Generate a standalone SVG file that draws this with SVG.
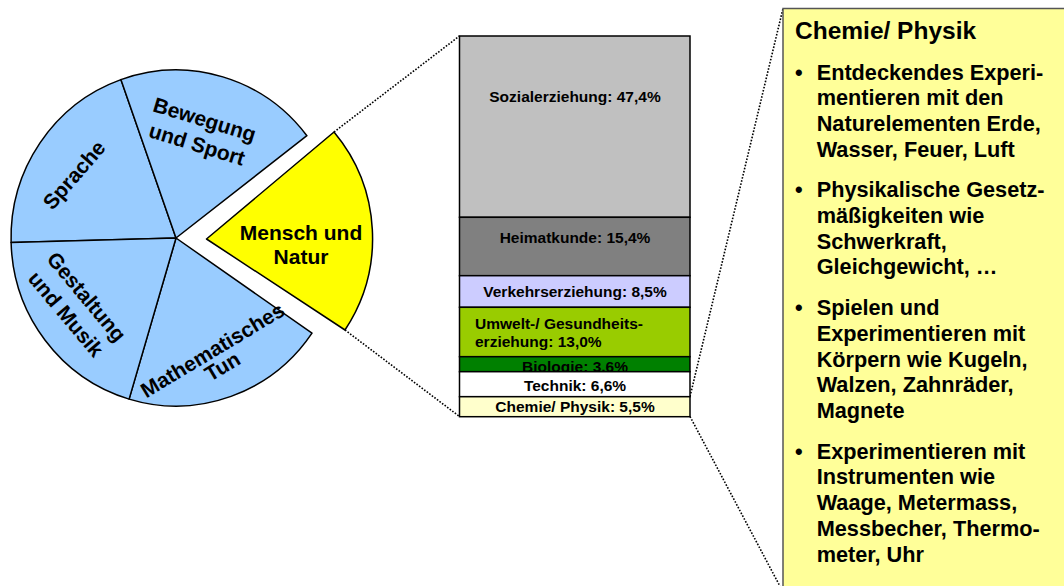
<svg xmlns="http://www.w3.org/2000/svg" width="1064" height="586" viewBox="0 0 1064 586">
<style>
.t{font-family:"Liberation Sans",Arial,sans-serif;font-weight:bold;fill:#000}
.pl{font-size:21px;text-anchor:middle}
.bl{font-size:15.5px;text-anchor:middle}
.bll{font-size:15.5px}
.slice{stroke:#000;stroke-width:1.5;stroke-linejoin:round}
.blue{fill:#99CCFF}
.seg{stroke:#000;stroke-width:1.5}
.dot{fill:none;stroke:#000;stroke-width:1.6;stroke-dasharray:1.6 1.6}
.bt{font-size:21.7px}
</style>
<rect width="1064" height="586" fill="#fff"/>
<g id="connectors">
<line class="dot" x1="334" y1="132" x2="459.5" y2="36"/>
<line class="dot" x1="345" y1="330" x2="459.5" y2="416.5"/>
<line class="dot" x1="690" y1="396.5" x2="783" y2="8.5"/>
<line class="dot" x1="690" y1="416.5" x2="783" y2="592"/>
</g>
<g id="pie-sprache">
<path class="slice blue" d="M176,238 L11.1,242.4 A165,168 0 0 1 120.9,79.6 Z"/>
<text class="t pl" transform="translate(79.6,179.7) rotate(-49)">Sprache</text>
</g>
<g id="pie-bewegung">
<path class="slice blue" d="M176,238 L120.9,79.6 A165,168 0 0 1 306.9,135.7 Z"/>
<g transform="translate(202.4,126.5) rotate(17)">
<text class="t pl" x="0" y="0">Bewegung</text>
<text class="t pl" x="0" y="26">und Sport</text>
</g>
</g>
<g id="pie-mathematisches">
<path class="slice blue" d="M176,238 L312,333.2 A165,168 0 0 1 129.1,399.1 Z"/>
<g transform="translate(216.3,356.3) rotate(-31)">
<text class="t pl" x="0" y="0">Mathematisches</text>
<text class="t pl" x="0" y="19">Tun</text>
</g>
</g>
<g id="pie-gestaltung">
<path class="slice blue" d="M176,238 L129.1,399.1 A165,168 0 0 1 11.1,242.4 Z"/>
<g transform="translate(81.1,301.4) rotate(50)">
<text class="t pl" x="0" y="0">Gestaltung</text>
<text class="t pl" x="0" y="27">und Musik</text>
</g>
</g>
<g id="pie-mensch-natur">
<path class="slice" fill="#FFFF00" d="M206.5,239 L334,132 A166,166 0 0 1 345,330 Z"/>
<text class="t pl" x="301" y="240">Mensch und</text>
<text class="t pl" x="301" y="264">Natur</text>
</g>
<g id="bar">
<g id="bar-sozial">
<rect class="seg" x="459.5" y="36" width="230.5" height="181.3" fill="#C0C0C0"/>
<text class="t bl" x="575" y="101.7">Sozialerziehung: 47,4%</text>
</g>
<g id="bar-heimat">
<rect class="seg" x="459.5" y="217.3" width="230.5" height="58.4" fill="#808080"/>
<text class="t bl" x="575" y="243.3">Heimatkunde: 15,4%</text>
</g>
<g id="bar-verkehr">
<rect class="seg" x="459.5" y="275.7" width="230.5" height="31.6" fill="#CCCCFF"/>
<text class="t bl" x="575" y="297.3">Verkehrserziehung: 8,5%</text>
</g>
<g id="bar-umwelt">
<rect class="seg" x="459.5" y="307.3" width="230.5" height="49.4" fill="#99CC00"/>
<text class="t bll" x="475" y="329">Umwelt-/ Gesundheits-</text>
<text class="t bll" x="475" y="346.7">erziehung: 13,0%</text>
</g>
<g id="bar-biologie">
<rect class="seg" x="459.5" y="356.7" width="230.5" height="15" fill="#008000"/>
<text class="t bl" x="575" y="372">Biologie: 3,6%</text>
</g>
<g id="bar-technik">
<rect class="seg" x="459.5" y="371.7" width="230.5" height="25" fill="#FFFFFF"/>
<text class="t bl" x="575" y="391">Technik: 6,6%</text>
</g>
<g id="bar-chemie">
<rect class="seg" x="459.5" y="396.7" width="230.5" height="20" fill="#FFFFCC"/>
<text class="t bl" x="575" y="412.3">Chemie/ Physik: 5,5%</text>
</g>
</g>
<g id="detail-box">
<rect x="783" y="8.5" width="300" height="600" fill="#FFFF99" stroke="#555" stroke-width="1.5"/>
<text class="t" x="795" y="39" font-size="24.5">Chemie/ Physik</text>
<g class="t bt">
<text x="795" y="79.5">•</text>
<text x="816.7" y="79.5">Entdeckendes Experi-</text>
<text x="816.7" y="105.3">mentieren mit den</text>
<text x="816.7" y="131">Naturelementen Erde,</text>
<text x="816.7" y="156.8">Wasser, Feuer, Luft</text>
<text x="795" y="197">•</text>
<text x="816.7" y="197">Physikalische Gesetz-</text>
<text x="816.7" y="222.8">mäßigkeiten wie</text>
<text x="816.7" y="248.6">Schwerkraft,</text>
<text x="816.7" y="274.4">Gleichgewicht, …</text>
<text x="795" y="315">•</text>
<text x="816.7" y="315">Spielen und</text>
<text x="816.7" y="340.8">Experimentieren mit</text>
<text x="816.7" y="366.6">Körpern wie Kugeln,</text>
<text x="816.7" y="392.4">Walzen, Zahnräder,</text>
<text x="816.7" y="418.2">Magnete</text>
<text x="795" y="458.5">•</text>
<text x="816.7" y="458.5">Experimentieren mit</text>
<text x="816.7" y="484.3">Instrumenten wie</text>
<text x="816.7" y="510.1">Waage, Metermass,</text>
<text x="816.7" y="535.9">Messbecher, Thermo-</text>
<text x="816.7" y="561.7">meter, Uhr</text>
</g>
</g>
</svg>
